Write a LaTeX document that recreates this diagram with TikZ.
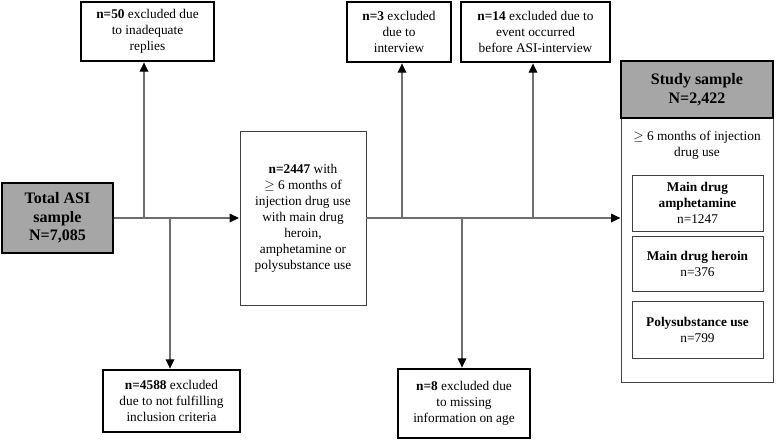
\documentclass[tikz,border=0pt]{standalone}
\usepackage{fontspec}
\setmainfont{Liberation Serif}
\usetikzlibrary{arrows.meta}

\definecolor{boxgray}{HTML}{A6A6A6}
\definecolor{linegray}{HTML}{6E6E6E}

\tikzset{
	excl/.style={draw, line width=1.1pt, align=center, font=\normalsize, inner sep=1pt},
	sample/.style={draw, line width=1.1pt, fill=boxgray, align=center, font=\large\bfseries, inner sep=1pt},
	thinbox/.style={draw=black!75, line width=0.6pt, align=center, font=\normalsize, inner sep=1pt},
	flow/.style={draw=linegray, line width=0.9pt},
	flowarrow/.style={flow, -{Triangle[length=7pt, width=6.5pt, black]}, shorten >=0.5pt},
}

\begin{document}
\begin{tikzpicture}[x=0.75pt, y=-0.75pt]
			\useasboundingbox (0,0) rectangle (777,447);

			% start and the first selection step
			\node[sample, minimum width=83.25pt, minimum height=52.5pt] (total) at (57.5,218)
				{Total ASI\\sample\\N=7,085};
			\node[excl, minimum width=99.75pt, minimum height=44.25pt] (excl50) at (147.5,31.5)
				{\textbf{n=50} excluded due\\to inadequate\\replies};
			\node[excl, minimum width=102.75pt, minimum height=46.5pt] (excl4588) at (171.5,401)
				{\textbf{n=4588} excluded\\due to not fulfilling\\inclusion criteria};
			\node[thinbox, minimum width=94.5pt, minimum height=130.5pt] (inj) at (303,218)
				{\textbf{n=2447} with\\$\geq$ 6 months of\\injection drug use\\with main drug\\heroin,\\amphetamine or\\polysubstance use};

			% second selection step
			\node[excl, minimum width=78pt, minimum height=45pt] (excl3) at (399,32)
				{\textbf{n=3} excluded\\due to\\interview};
			\node[excl, minimum width=111.75pt, minimum height=45pt] (excl14) at (535.5,32)
				{\textbf{n=14} excluded due to\\event occurred\\before ASI-interview};
			\node[excl, minimum width=99pt, minimum height=51.75pt] (excl8) at (464,403.5)
				{\textbf{n=8} excluded due\\to missing\\information on age};

			% final study sample
			\node[thinbox, minimum width=114pt, minimum height=198pt] (body) at (697,250) {};
			\node[sample, minimum width=114pt, minimum height=42.75pt] (study) at (697,89.5)
				{Study sample\\N=2,422};
			\node[align=center, font=\normalsize] (months) at (697,145)
				{$\geq$ 6 months of injection\\drug use};
			\node[thinbox, minimum width=98.25pt, minimum height=42pt] (amph) at (697.5,203)
				{\textbf{Main drug}\\\textbf{amphetamine}\\n=1247};
			\node[thinbox, minimum width=98.25pt, minimum height=41.25pt] (heroin) at (697.5,263.5)
				{\textbf{Main drug heroin}\\n=376};
			\node[thinbox, minimum width=98.25pt, minimum height=42.75pt] (poly) at (697.5,329.5)
				{\textbf{Polysubstance use}\\n=799};

			% junctions on the main line
			\coordinate (j50) at (144,218);
			\coordinate (j4588) at (170,218);
			\coordinate (j3) at (402,218);
			\coordinate (j8) at (462,218);
			\coordinate (j14) at (533,218);
			\coordinate (entry) at (621,218);

			\draw[flowarrow] (total.east) -- (inj.west);
			\draw[flowarrow] (j50) -- (excl50.south -| j50);
			\draw[flowarrow] (j4588) -- (excl4588.north -| j4588);
			\draw[flowarrow] (inj.east) -- (entry);
			\draw[flowarrow] (j3) -- (excl3.south -| j3);
			\draw[flowarrow] (j8) -- (excl8.north -| j8);
			\draw[flowarrow] (j14) -- (excl14.south -| j14);
\end{tikzpicture}
\end{document}
